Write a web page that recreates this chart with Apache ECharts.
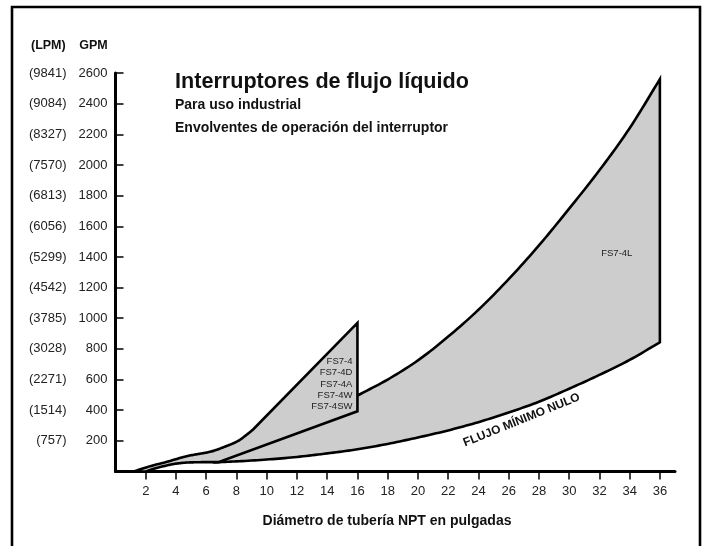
<!DOCTYPE html>
<html>
<head>
<meta charset="utf-8">
<script src="https://cdn.jsdelivr.net/npm/echarts@6/dist/echarts.min.js"></script>
<style>
html,body{margin:0;padding:0;background:#fff;}
#chart{width:706px;height:546px;}
</style>
</head>
<body>
<div id="chart"></div>
<script>
// ---- Data ----
const xTicks = [2, 4, 6, 8, 10, 12, 14, 16, 18, 20, 22, 24, 26, 28, 30, 32, 34, 36];
const gpmTicks = [200, 400, 600, 800, 1000, 1200, 1400, 1600, 1800, 2000, 2200, 2400, 2600];
const lpmLabels = ['(757)', '(1514)', '(2271)', '(3028)', '(3785)', '(4542)', '(5299)', '(6056)', '(6813)', '(7570)', '(8327)', '(9084)', '(9841)'];

// FS7-4 family envelope: upper (max) boundary, pipe size in inches -> GPM (last point ends a straight run)
const fs74UpperX = [1.2, 2.3, 3.4, 4.05, 4.7, 5.4, 6.0, 6.6, 7.1, 7.7, 8.2, 8.6, 9.1, 16];
const fs74UpperGpm = [0, 35, 63, 82, 100, 113, 123, 138, 157, 180, 205, 234, 274, 970];
// FS7-4 family envelope: lower boundary (last point ends a straight run)
const fs74LowerX = [2.0, 2.6, 3.2, 3.8, 4.5, 5.2, 5.8, 6.8, 16];
const fs74LowerGpm = [0, 20, 35, 48, 57, 60, 61, 61, 393];

// FS7-4L envelope: upper boundary
const fs74LUpperX = [6.8, 8, 10, 12, 14, 16, 18, 20, 22, 24, 26, 28, 30, 32, 34, 36];
const fs74LUpperGpm = [61, 120, 195, 280, 385, 495, 600, 725, 880, 1055, 1255, 1475, 1715, 1965, 2240, 2560];
// "Flujo mínimo nulo" lower boundary
const flujoMinX = [6.8, 8, 10, 12, 14, 16, 18, 20, 22, 24, 26, 28, 30, 32, 34, 36];
const flujoMinGpm = [61, 66, 78, 95, 118, 145, 180, 222, 268, 322, 385, 455, 540, 630, 728, 843];

const FONT = "'Liberation Sans', Arial, Helvetica, sans-serif";

function pairs(xs, ys) { return xs.map((x, i) => [x, ys[i]]); }

// centripetal Catmull-Rom through pixel points (rendering smoothness only)
function smoothPx(pts, n) {
  if (pts.length < 3) return pts.slice();
  const out = [pts[0]];
  const d = (a, b) => Math.max(1e-4, Math.pow(Math.hypot(b[0] - a[0], b[1] - a[1]), 0.5));
  const lerp = (a, b, ta, tb, t) => [
    (tb - t) / (tb - ta) * a[0] + (t - ta) / (tb - ta) * b[0],
    (tb - t) / (tb - ta) * a[1] + (t - ta) / (tb - ta) * b[1]
  ];
  for (let i = 0; i < pts.length - 1; i++) {
    const p1 = pts[i], p2 = pts[i + 1];
    const p0 = i > 0 ? pts[i - 1] : [2 * p1[0] - p2[0], 2 * p1[1] - p2[1]];
    const p3 = i + 2 < pts.length ? pts[i + 2] : [2 * p2[0] - p1[0], 2 * p2[1] - p1[1]];
    const t0 = 0, t1 = t0 + d(p0, p1), t2 = t1 + d(p1, p2), t3 = t2 + d(p2, p3);
    for (let k = 1; k <= n; k++) {
      const t = t1 + (t2 - t1) * k / n;
      const A1 = lerp(p0, p1, t0, t1, t), A2 = lerp(p1, p2, t1, t2, t), A3 = lerp(p2, p3, t2, t3, t);
      const B1 = lerp(A1, A2, t0, t2, t), B2 = lerp(A2, A3, t1, t3, t);
      out.push(lerp(B1, B2, t1, t2, t));
    }
  }
  return out;
}

// Outline builders: return pixel polygon from data arrays via api.coord
const outlineA = function (api) {
  const up = pairs(fs74UpperX, fs74UpperGpm).map(p => api.coord(p));
  const lo = pairs(fs74LowerX, fs74LowerGpm).map(p => api.coord(p));
  const upCurve = smoothPx(up.slice(0, up.length - 1), 10);
  const loCurve = smoothPx(lo.slice(0, lo.length - 1), 10).reverse();
  return upCurve.concat([up[up.length - 1], lo[lo.length - 1]]).concat(loCurve);
};
const outlineB = function (api) {
  const up = pairs(fs74LUpperX, fs74LUpperGpm).map(p => api.coord(p));
  const lo = pairs(flujoMinX, flujoMinGpm).map(p => api.coord(p));
  return smoothPx(up, 10).concat(smoothPx(lo, 10).reverse());
};

function polySeries(name, xs, ys, outline, z) {
  return {
    type: 'custom', name: name, coordinateSystem: 'cartesian2d', z: z,
    data: pairs(xs, ys), encode: { x: 0, y: 1 }, silent: true, clip: false,
    renderItem: function (params, api) {
      if (params.dataIndex !== 0) return null;
      return {
        type: 'polygon', shape: { points: outline(api) },
        style: { fill: '#cdcdcd', stroke: '#000', lineWidth: 2.6, lineJoin: 'miter', miterLimit: 20 }
      };
    }
  };
}

const chart = echarts.init(document.getElementById('chart'), null, { renderer: 'canvas' });
const axisTextStyle = { color: '#222', fontFamily: FONT, fontSize: 13 };

chart.setOption({
  animation: false,
  backgroundColor: '#fff',
  grid: { left: 115.5, right: 31, top: 73, bottom: 74.5, containLabel: false },
  xAxis: {
    type: 'value', min: 0, max: 37, interval: 2,
    splitLine: { show: false },
    axisLine: { show: true, onZero: false, lineStyle: { color: '#000', width: 3 } },
    axisTick: { show: true, inside: false, length: 8, customValues: xTicks, lineStyle: { color: '#000', width: 1.5 } },
    axisLabel: Object.assign({ margin: 13, customValues: xTicks,
      formatter: v => (xTicks.indexOf(v) >= 0 ? String(v) : '') }, axisTextStyle)
  },
  yAxis: [
    {
      type: 'value', min: 0, max: 2600, interval: 200, position: 'left',
      splitLine: { show: false },
      axisLine: { show: true, onZero: false, lineStyle: { color: '#000', width: 3 } },
      axisTick: { show: true, inside: true, length: 8, customValues: gpmTicks, lineStyle: { color: '#000', width: 1.5 } },
      axisLabel: Object.assign({ margin: 8, customValues: gpmTicks,
        formatter: v => (gpmTicks.indexOf(v) >= 0 ? String(v) : '') }, axisTextStyle)
    },
    {
      type: 'value', min: 0, max: 2600, interval: 200, position: 'left',
      splitLine: { show: false },
      axisLine: { show: false }, axisTick: { show: false },
      axisLabel: Object.assign({ margin: 49, customValues: gpmTicks,
        formatter: v => { const i = gpmTicks.indexOf(v); return i >= 0 ? lpmLabels[i] : ''; } }, axisTextStyle)
    }
  ],
  series: [
    polySeries('FS7-4L', fs74LUpperX.concat(flujoMinX), fs74LUpperGpm.concat(flujoMinGpm), outlineB, 2),
    polySeries('FS7-4', fs74UpperX.concat(fs74LowerX), fs74UpperGpm.concat(fs74LowerGpm), outlineA, 3)
  ]
});

// Text annotations placed through the chart's own coordinate conversion
function px(x, y) { return chart.convertToPixel({ gridIndex: 0 }, [x, y]); }
const pLabA = px(15.67, 571);
const pLabL = px(33.15, 1420);
const pFlujo = px(26.86, 335);

chart.setOption({
  graphic: [
    { type: 'rect', shape: { x: 12, y: 7, width: 688, height: 560 }, style: { fill: 'none', stroke: '#000', lineWidth: 2.6 }, z: 0, silent: true },
    { type: 'text', x: 65.7, y: 45.7, style: { text: '(LPM)', fill: '#111', font: 'bold 12.5px ' + FONT, textAlign: 'right', textVerticalAlign: 'middle' } },
    { type: 'text', x: 107.7, y: 45.7, style: { text: 'GPM', fill: '#111', font: 'bold 12.5px ' + FONT, textAlign: 'right', textVerticalAlign: 'middle' } },
    { type: 'text', x: 175, y: 82, style: { text: 'Interruptores de flujo líquido', fill: '#111', font: 'bold 21.6px ' + FONT, textAlign: 'left', textVerticalAlign: 'middle' } },
    { type: 'text', x: 175, y: 105, style: { text: 'Para uso industrial', fill: '#111', font: 'bold 14px ' + FONT, textAlign: 'left', textVerticalAlign: 'middle' } },
    { type: 'text', x: 175, y: 128, style: { text: 'Envolventes de operación del interruptor', fill: '#111', font: 'bold 14px ' + FONT, textAlign: 'left', textVerticalAlign: 'middle' } },
    { type: 'text', x: 387, y: 521, style: { text: 'Diámetro de tubería NPT en pulgadas', fill: '#111', font: 'bold 14px ' + FONT, textAlign: 'center', textVerticalAlign: 'middle' } },
    { type: 'text', x: pLabA[0], y: pLabA[1], z: 10, style: { text: 'FS7-4\nFS7-4D\nFS7-4A\nFS7-4W\nFS7-4SW', fill: '#222', font: '9.5px ' + FONT, lineHeight: 11.3, textAlign: 'right', textVerticalAlign: 'middle' } },
    { type: 'text', x: pLabL[0], y: pLabL[1], z: 10, style: { text: 'FS7-4L', fill: '#222', font: '9.5px ' + FONT, textAlign: 'center', textVerticalAlign: 'middle' } },
    { type: 'text', x: pFlujo[0], y: pFlujo[1], rotation: 22 * Math.PI / 180, z: 10, style: { text: 'FLUJO MÍNIMO NULO', fill: '#111', font: 'bold 12px ' + FONT, textAlign: 'center', textVerticalAlign: 'middle' } }
  ]
});
</script>
</body>
</html>
